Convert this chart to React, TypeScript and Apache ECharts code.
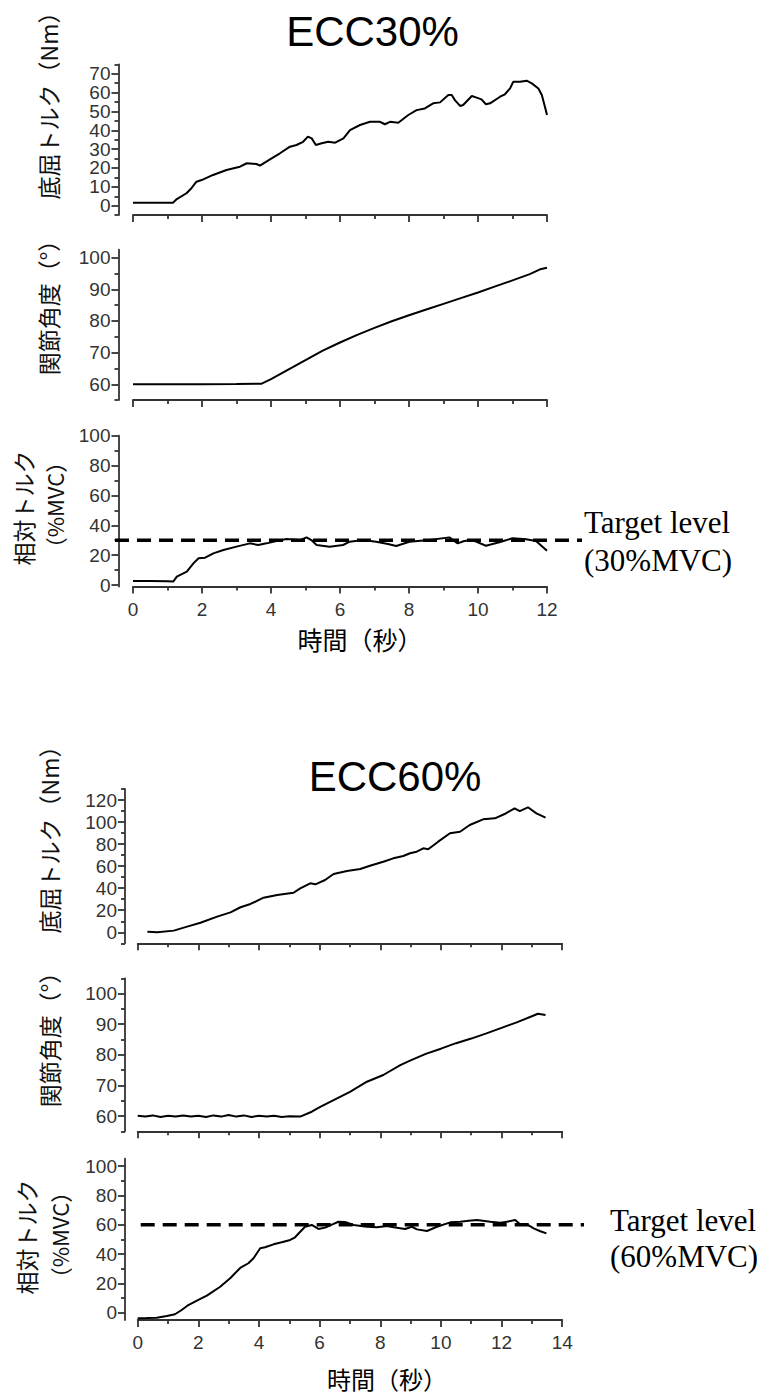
import React, { useEffect, useRef } from "react";
import * as echarts from "echarts";

// ---------- ECC30% ----------
const ecc30TorqueTime = [0, 0.5, 1.0, 1.16, 1.27, 1.55, 1.7, 1.84, 1.99, 2.32, 2.71, 3.1, 3.3, 3.58, 3.68, 3.97, 4.26, 4.55, 4.74, 4.93, 5.07, 5.18, 5.3, 5.47, 5.66, 5.86, 6.1, 6.29, 6.58, 6.87, 7.16, 7.3, 7.45, 7.69, 7.98, 8.22, 8.46, 8.7, 8.9, 9.14, 9.24, 9.33, 9.48, 9.57, 9.82, 9.96, 10.1, 10.23, 10.35, 10.64, 10.78, 10.93, 11.02, 11.22, 11.41, 11.56, 11.75, 11.85, 11.94, 12.0];
const ecc30Torque = [1.6, 1.6, 1.6, 1.6, 3.5, 6.6, 9.4, 12.7, 13.6, 16.3, 18.9, 20.7, 22.5, 22.1, 21.2, 24.6, 27.8, 31.3, 32.2, 33.9, 36.6, 35.7, 32.2, 33.1, 33.9, 33.4, 35.7, 40.1, 42.8, 44.5, 44.5, 43.2, 44.5, 44.0, 48.1, 50.7, 51.6, 54.3, 54.8, 58.7, 58.7, 56.0, 52.9, 53.4, 58.2, 57.3, 56.4, 53.8, 54.3, 57.8, 59.1, 62.2, 65.7, 65.7, 66.3, 64.9, 62.2, 58.7, 52.5, 48.1];

const ecc30AngleTime = [0, 1, 2, 3, 3.73, 4, 4.5, 5, 5.5, 6, 6.5, 7, 7.5, 8, 8.5, 9, 9.5, 10, 10.5, 11, 11.5, 11.8, 12];
const ecc30Angle = [60, 60, 60, 60.1, 60.2, 61.6, 64.6, 67.6, 70.6, 73.2, 75.6, 77.8, 79.9, 81.8, 83.6, 85.4, 87.2, 89.0, 90.9, 92.8, 94.8, 96.3, 96.8];

const ecc30RelTime = [0, 0.5, 1.0, 1.17, 1.27, 1.56, 1.75, 1.9, 2.09, 2.33, 2.62, 3.0, 3.39, 3.63, 3.87, 4.16, 4.45, 4.84, 5.03, 5.17, 5.32, 5.7, 6.09, 6.28, 6.66, 7.05, 7.39, 7.63, 8.01, 8.59, 9.17, 9.41, 9.6, 9.84, 10.23, 10.62, 11.0, 11.39, 11.68, 11.87, 12.0];
const ecc30Rel = [2.7, 2.6, 2.5, 2.4, 5.6, 8.9, 14.5, 17.9, 18.3, 21.2, 23.4, 25.7, 27.9, 26.8, 27.9, 29.5, 30.8, 30.1, 31.9, 30.1, 26.8, 25.7, 26.8, 29.0, 30.1, 29.0, 27.5, 26.1, 29.0, 30.1, 31.9, 27.9, 29.5, 30.1, 26.3, 28.6, 31.3, 30.6, 29.5, 25.7, 23.0];
const ecc30Target = 30;

// ---------- ECC60% ----------
const ecc60TorqueTime = [0.32, 0.65, 1.19, 1.63, 2.07, 2.62, 3.06, 3.39, 3.72, 4.15, 4.6, 5.14, 5.36, 5.69, 5.86, 6.18, 6.46, 6.9, 7.34, 7.66, 8.1, 8.43, 8.76, 8.98, 9.2, 9.42, 9.58, 9.91, 10.3, 10.63, 10.95, 11.39, 11.78, 12.1, 12.43, 12.6, 12.87, 13.15, 13.45];
const ecc60Torque = [0.5, 0, 1.5, 5.1, 8.7, 14.2, 18.1, 22.7, 25.7, 31.4, 33.8, 35.9, 39.9, 44.4, 43.5, 47.4, 52.9, 55.6, 57.4, 60.4, 64.0, 67.1, 69.2, 71.7, 73.1, 76.2, 75.3, 82.2, 89.8, 91.2, 97.3, 102.5, 103.4, 107.3, 112.5, 110.0, 113.4, 107.9, 104.0];

const ecc60AngleTime = [0, 0.25, 0.5, 0.75, 1.0, 1.25, 1.5, 1.75, 2.0, 2.25, 2.5, 2.75, 3.0, 3.25, 3.5, 3.75, 4.0, 4.25, 4.5, 4.75, 5.0, 5.36, 5.74, 6.02, 6.46, 7.0, 7.56, 8.1, 8.66, 9.0, 9.5, 10.0, 10.5, 11.0, 11.5, 12.0, 12.5, 13.0, 13.2, 13.45];
const ecc60Angle = [60.1, 59.8, 60.2, 59.7, 60.1, 59.8, 60.2, 59.8, 60.1, 59.7, 60.2, 59.8, 60.3, 59.8, 60.2, 59.7, 60.1, 59.8, 60.1, 59.7, 59.9, 59.8, 61.4, 63.0, 65.2, 67.9, 71.2, 73.4, 76.6, 78.2, 80.3, 82.0, 83.8, 85.3, 87.0, 88.8, 90.6, 92.6, 93.4, 93.0];

const ecc60RelTime = [0, 0.3, 0.63, 0.96, 1.23, 1.45, 1.67, 2.0, 2.28, 2.72, 3.05, 3.38, 3.65, 3.82, 4.04, 4.2, 4.48, 4.75, 5.03, 5.19, 5.36, 5.52, 5.74, 5.96, 6.18, 6.46, 6.62, 6.84, 7.12, 7.56, 7.89, 8.22, 8.44, 8.82, 9.04, 9.21, 9.54, 9.87, 10.31, 10.64, 10.91, 11.19, 11.63, 11.96, 12.18, 12.45, 12.6, 12.84, 13.06, 13.28, 13.48];
const ecc60Rel = [-3.8, -3.7, -3.4, -2.2, -1.1, 1.8, 5.2, 8.7, 11.6, 17.7, 23.5, 30.5, 33.7, 37.1, 43.9, 44.6, 46.6, 48.0, 49.6, 51.4, 55.2, 58.6, 59.8, 57.1, 58.0, 60.5, 62.0, 61.8, 59.8, 58.6, 58.2, 59.1, 58.2, 57.1, 58.6, 56.8, 55.7, 58.6, 61.6, 62.0, 62.7, 63.2, 62.0, 61.4, 62.0, 63.2, 60.5, 60.2, 57.5, 55.5, 54.1];
const ecc60Target = 60;

// ---------- ticks ----------
const torque30Major = [0, 10, 20, 30, 40, 50, 60, 70];
const torque30Minor = [-5, 5, 15, 25, 35, 45, 55, 65, 75];
const angle30Major = [60, 70, 80, 90, 100];
const angle30Minor = [55, 65, 75, 85, 95];
const rel30Major = [0, 20, 40, 60, 80, 100];
const rel30Minor = [10, 30, 50, 70, 90];
const torque60Major = [0, 20, 40, 60, 80, 100, 120];
const torque60Minor = [-10, 10, 30, 50, 70, 90, 110, 130];
const angle60Major = [60, 70, 80, 90, 100];
const angle60Minor = [55, 65, 75, 85, 95, 105];
const rel60Major = [0, 20, 40, 60, 80, 100];
const rel60Minor = [10, 30, 50, 70, 90];

const zip = (t: number[], v: number[]) => t.map((x, i) => [x, v[i]]);

const AX = "#333";
const SANS = "'Liberation Sans', Arial, sans-serif";
const CJK = "'Noto Sans CJK JP', sans-serif";
const SERIF = "'Liberation Serif', 'Times New Roman', serif";

type Panel = {
  left: number; top: number; width: number; height: number;
  xMax: number; showX: boolean;
  yMin: number; yMax: number; major: number[]; minor: number[]; offset: number;
  data: number[][];
};

export default function App() {
  const ref = useRef<HTMLDivElement>(null);
  useEffect(() => {
    const chart = echarts.init(ref.current!, null, { renderer: "svg" });

    const panels: Panel[] = [
      { left: 133, top: 64.3, width: 414, height: 150.8, xMax: 12, showX: false, yMin: -5, yMax: 75, major: torque30Major, minor: torque30Minor, offset: 14.5, data: zip(ecc30TorqueTime, ecc30Torque) },
      { left: 133, top: 249.7, width: 414, height: 150.4, xMax: 12, showX: false, yMin: 55, yMax: 102.5, major: angle30Major, minor: angle30Minor, offset: 14.5, data: zip(ecc30AngleTime, ecc30Angle) },
      { left: 133, top: 435.7, width: 414, height: 150.8, xMax: 12, showX: true, yMin: -1, yMax: 100, major: rel30Major, minor: rel30Minor, offset: 14.5, data: zip(ecc30RelTime, ecc30Rel) },
      { left: 137.7, top: 789, width: 424.5, height: 154.3, xMax: 14, showX: false, yMin: -10, yMax: 130, major: torque60Major, minor: torque60Minor, offset: 12.7, data: zip(ecc60TorqueTime, ecc60Torque) },
      { left: 137.7, top: 978.3, width: 424.5, height: 153, xMax: 14, showX: false, yMin: 55, yMax: 105, major: angle60Major, minor: angle60Minor, offset: 12.7, data: zip(ecc60AngleTime, ecc60Angle) },
      { left: 137.7, top: 1158.7, width: 424.5, height: 161.3, xMax: 14, showX: true, yMin: -5, yMax: 105, major: rel60Major, minor: rel60Minor, offset: 12.7, data: zip(ecc60RelTime, ecc60Rel) },
    ];

    const lineStyle = { color: AX, width: 1.8 };
    const labelStyle = { fontFamily: SANS, fontSize: 19, lineHeight: 15, color: "#333" };

    const grid: any[] = panels.map((p) => ({ left: p.left, top: p.top, width: p.width, height: p.height, containLabel: false }));
    // target-level grids (dashed line extends beyond the plot)
    grid.push({ left: 115, top: 435.7, width: 467, height: 150.8 });
    grid.push({ left: 140.7, top: 1158.7, width: 443.3, height: 161.3 });

    const xAxis: any[] = panels.map((p, i) => ({
      type: "value", gridIndex: i, min: 0, max: p.xMax, interval: 2,
      axisLine: { show: true, onZero: false, lineStyle },
      axisTick: { show: true, length: 7, lineStyle },
      minorTick: { show: true, splitNumber: 2, length: 4, lineStyle },
      splitLine: { show: false }, minorSplitLine: { show: false },
      axisLabel: { show: p.showX, margin: 15, hideOverlap: false, showMinLabel: true, showMaxLabel: true, ...labelStyle },
    }));
    xAxis.push({ type: "value", gridIndex: 6, min: 0, max: 1, show: false });
    xAxis.push({ type: "value", gridIndex: 7, min: 0, max: 1, show: false });

    const yAxis: any[] = panels.map((p, i) => ({
      type: "value", gridIndex: i, min: p.yMin, max: p.yMax, position: "left", offset: p.offset,
      axisLine: { show: true, onZero: false, lineStyle },
      axisTick: { show: true, length: 7, customValues: p.major, lineStyle },
      axisLabel: { show: true, customValues: p.major, margin: 8, hideOverlap: false, showMinLabel: true, showMaxLabel: true, ...labelStyle },
      splitLine: { show: false },
    }));
    panels.forEach((p, i) => {
      yAxis.push({
        type: "value", gridIndex: i, min: p.yMin, max: p.yMax, position: "left", offset: p.offset,
        axisLine: { show: false, onZero: false },
        axisTick: { show: true, length: 4, customValues: p.minor, lineStyle },
        axisLabel: { show: false },
        splitLine: { show: false },
      });
    });
    yAxis.push({ type: "value", gridIndex: 6, min: -1, max: 100, show: false });
    yAxis.push({ type: "value", gridIndex: 7, min: -5, max: 105, show: false });

    const series: any[] = panels.map((p, i) => ({
      type: "line", xAxisIndex: i, yAxisIndex: i, data: p.data,
      symbol: "none", showSymbol: false, silent: true,
      lineStyle: { color: "#000", width: 2 },
    }));
    series.push({
      type: "line", xAxisIndex: 6, yAxisIndex: 12, data: [[0, ecc30Target], [1, ecc30Target]],
      symbol: "none", silent: true, z: 1,
      lineStyle: { color: "#000", width: 3.5, type: [14, 8] },
    });
    series.push({
      type: "line", xAxisIndex: 7, yAxisIndex: 13, data: [[0, ecc60Target], [1, ecc60Target]],
      symbol: "none", silent: true, z: 1,
      lineStyle: { color: "#000", width: 3.5, type: [14, 8] },
    });

    const vText = (text: string, x: number, y: number, size = 23) => ({
      type: "text", x, y, rotation: Math.PI / 2,
      style: { text, fontFamily: CJK, fontSize: size, fill: "#111", align: "center", verticalAlign: "middle" },
    });
    const hText = (text: string, x: number, y: number, font: string, size: number, align = "center") => ({
      type: "text", x, y,
      style: { text, fontFamily: font, fontSize: size, fill: "#000", align, verticalAlign: "middle" },
    });

    const graphic = [
      hText("ECC30%", 372.5, 31, SANS, 42),
      hText("ECC60%", 395, 776, SANS, 42),
      vText("底屈トルク（Nm）", 48, 100),
      vText("関節角度（°）", 48, 302),
      vText("相対トルク", 23, 508),
      vText("（%MVC）", 54, 505, 22),
      vText("底屈トルク（Nm）", 49, 834),
      vText("関節角度（°）", 49, 1034),
      vText("相対トルク", 26, 1237),
      vText("（%MVC）", 59, 1235, 22),
      hText("時間（秒）", 360, 639, CJK, 25),
      hText("時間（秒）", 387, 1378, CJK, 24),
      hText("Target level", 584, 522, SERIF, 31, "left"),
      hText("(30%MVC)", 584, 560, SERIF, 31, "left"),
      hText("Target level", 610, 1220, SERIF, 31, "left"),
      hText("(60%MVC)", 610, 1256, SERIF, 31, "left"),
    ];

    chart.setOption({
      animation: false,
      backgroundColor: "#fff",
      grid, xAxis, yAxis, series, graphic,
    });
    return () => chart.dispose();
  }, []);
  return <div ref={ref} style={{ position: "absolute", left: 0, top: 0, width: 768, height: 1398 }} />;
}
